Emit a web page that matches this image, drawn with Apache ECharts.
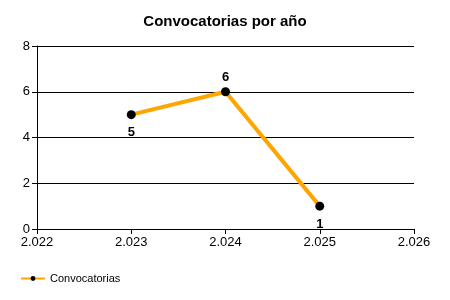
<!DOCTYPE html>
<html><head><meta charset="utf-8">
<script src="https://cdn.jsdelivr.net/npm/echarts@6/dist/echarts.min.js"></script>
<style>html,body{margin:0;padding:0;background:#fff}#c{width:450px;height:300px}</style>
</head><body><div id="c"></div>
<script>
const years = [2023, 2024, 2025];
const values = [5, 6, 1];
const labelPos = ['bottom', 'top', 'bottom'];
const seriesName = 'Convocatorias';
const titleText = 'Convocatorias por año';

const chart = echarts.init(document.getElementById('c'), null, {renderer: 'canvas'});
const fmt = v => { const s = String(Math.round(v)); return s.length > 3 ? s.slice(0, s.length-3) + '.' + s.slice(-3) : s; };
chart.setOption({
  animation: false,
  backgroundColor: '#fff',
  title: {text: titleText, left: 'center', top: 9, textStyle: {fontFamily: 'Liberation Sans', fontSize: 15, fontWeight: 'bold', color: '#000'}},
  grid: {left: 37, right: 36, top: 46, bottom: 71},
  xAxis: {type: 'value', min: 2022, max: 2026, interval: 1,
    axisLine: {lineStyle: {color: '#000', width: 1}},
    axisTick: {show: true, length: 5, inside: false, lineStyle: {color: '#000'}},
    splitLine: {show: false},
    axisLabel: {formatter: fmt, color: '#000', fontFamily: 'Liberation Sans', fontSize: 13, margin: 7}},
  yAxis: {type: 'value', min: 0, max: 8, interval: 2,
    axisLine: {show: true, lineStyle: {color: '#000', width: 1}},
    axisTick: {show: true, length: 5, lineStyle: {color: '#000'}},
    splitLine: {show: true, lineStyle: {color: '#000', width: 1}},
    axisLabel: {color: '#000', fontFamily: 'Liberation Sans', fontSize: 13, margin: 7}},
  legend: {left: 15, bottom: 11, itemWidth: 24, itemHeight: 6, itemGap: 5,
    textStyle: {fontFamily: 'Liberation Sans', fontSize: 11, color: '#000'},
    data: [{name: seriesName}]},
  series: [{
    name: seriesName, type: 'line',
    data: years.map((y, i) => ({value: [y, values[i]], label: {position: labelPos[i], distance: labelPos[i] === 'top' ? 3 : 7}})),
    lineStyle: {color: '#FFA500', width: 4},
    itemStyle: {color: '#000'},
    symbol: 'circle', symbolSize: 9,
    label: {show: true, fontFamily: 'Liberation Sans', fontSize: 13, fontWeight: 'bold', color: '#000'},
    z: 3
  }]
});
</script></body></html>
